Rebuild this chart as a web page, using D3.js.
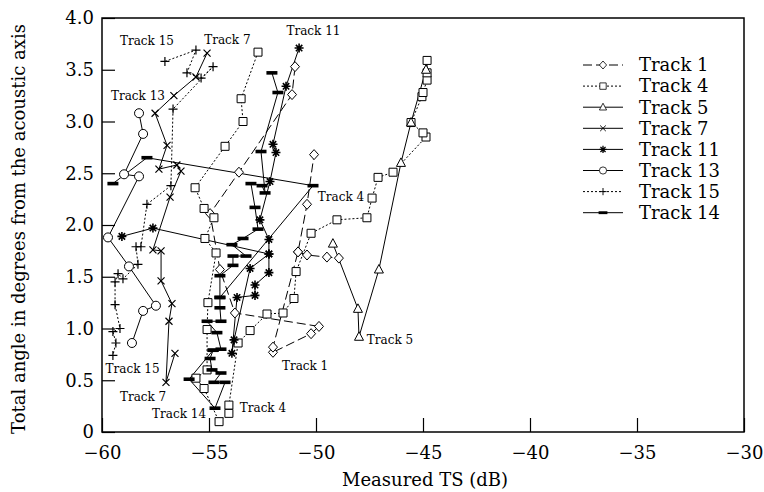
<!DOCTYPE html>
<meta charset="utf-8">
<style>
body { margin: 0; background: #fff; }
text { font-family: "DejaVu Serif", serif; fill: #000; }
.line { fill: none; stroke: #000; stroke-width: 1px; }
</style>
<body>
<script src="https://cdn.jsdelivr.net/npm/d3@7"></script>
<script>

// each track: [measured TS (dB), total angle (deg)], null = break in the line
var track1 = [[-50.98,3.53],[-51.12,3.26],[-53.60,2.51],[-54.95,2.11],[-54.49,1.57],[-53.79,1.15],
  [-49.86,1.02],[-50.23,0.95],[-52.01,0.77],[-52.01,0.82],[-50.84,1.74],[-50.42,2.20],[-50.09,2.68],
  null,[-50.84,1.74],[-50.42,1.71],[-49.49,1.69],[-48.93,1.68]];

var track4 = [[-52.71,3.67],[-53.50,3.22],[-53.41,3.00],[-54.25,2.76],[-55.65,2.36],[-55.23,2.16],
  [-54.77,2.07],[-55.19,1.87],[-54.67,1.73],[-55.05,1.25],[-55.09,0.99],[-55.09,0.60],[-55.61,0.52],
  [-55.23,0.42],[-54.53,0.10],[-54.07,0.18],[-54.07,0.26],[-53.64,0.86],[-53.08,0.98],[-52.29,1.14],
  [-51.54,1.15],[-51.03,1.29],[-50.93,1.55],[-50.23,1.92],[-49.02,2.05],[-47.62,2.07],[-47.38,2.26],
  [-47.10,2.46],[-46.40,2.51],[-44.86,2.85],[-45.00,2.89],[-45.56,2.99],[-45.05,3.24],[-45.00,3.28],
  [-44.81,3.40],[-44.81,3.47],[-44.81,3.59]];

var track5 = [[-49.21,1.82],[-48.04,1.19],[-47.99,0.92],[-47.06,1.57],[-46.03,2.60],[-45.56,2.99],[-44.86,3.50]];

var track7 = [[-56.59,0.76],[-57.01,0.48],[-56.87,1.07],[-56.73,1.24],[-57.24,1.46],[-57.24,1.75],
  [-57.62,1.76],[-56.82,2.27],[-56.31,2.52],[-56.50,2.58],[-57.34,2.54],[-56.96,2.77],[-57.52,3.08],
  [-56.64,3.25],[-55.61,3.43],[-55.09,3.66]];

var track11 = [[-50.79,3.71],[-51.40,3.34],[-52.01,2.78],[-51.87,2.70],[-52.15,2.42],[-52.62,2.05],
  [-52.20,1.86],[-52.20,1.72],[-52.20,1.54],[-52.85,1.42],[-52.85,1.32],[-53.69,1.30],[-53.93,0.76],
  [-53.83,0.89],[-53.08,1.58],[-52.20,1.72],[-57.62,1.97],[-59.07,1.89]];

var track13 = [[-58.27,3.08],[-58.08,2.88],[-58.97,2.49],[-58.27,2.47],[-59.72,1.88],[-58.74,1.60],
  [-57.48,1.22],[-58.08,1.17],[-58.60,0.86]];

var track15 = [[-57.06,3.58],[-55.61,3.69],[-56.03,3.47],[-55.37,3.42],[-54.81,3.53],[-56.68,3.12],
  [-56.78,2.38],[-57.90,2.20],[-58.18,1.79],[-58.41,1.79],[-58.32,1.62],[-59.02,1.48],[-59.25,1.53],
  [-59.39,1.45],[-59.39,1.23],[-59.16,1.00],[-59.49,0.97],[-59.35,0.86],[-59.49,0.74]];

var track14 = [[-59.49,2.40],[-57.90,2.65],[-50.14,2.38],[-54.49,1.30],[-54.49,1.51],[-53.88,1.61],
  [-53.88,1.70],[-53.27,1.70],[-53.93,1.81],[-53.41,1.87],[-52.71,1.96],[-52.85,2.17],[-53.04,2.40],
  [-52.52,2.38],[-52.38,2.31],[-52.57,2.71],[-51.78,3.28],[-52.06,3.47],
  null,[-54.49,1.30],[-54.49,1.20],[-54.44,1.07],[-55.09,1.07],[-54.63,0.96],[-54.44,0.80],[-54.81,0.79],
  [-54.95,0.71],[-54.86,0.60],[-54.44,0.57],[-54.77,0.48],[-54.25,0.48],[-54.72,0.23],[-55.93,0.51],
  [-54.81,0.79]];

var xTicks = [-60, -55, -50, -45, -40, -35, -30];
var yTicks = [0, 0.5, 1, 1.5, 2, 2.5, 3, 3.5, 4];

// text labels placed next to the tracks, in data units
var notes = [
  {t: "Track 15", x: -57.90, y: 3.78}, {t: "Track 7", x: -54.14, y: 3.79},
  {t: "Track 11", x: -50.12, y: 3.88}, {t: "Track 13", x: -58.32, y: 3.25},
  {t: "Track 4", x: -48.83, y: 2.27}, {t: "Track 5", x: -46.54, y: 0.89},
  {t: "Track 1", x: -50.51, y: 0.64}, {t: "Track 15", x: -58.57, y: 0.61},
  {t: "Track 7", x: -58.08, y: 0.34}, {t: "Track 14", x: -56.40, y: 0.18},
  {t: "Track 4", x: -52.48, y: 0.23}
];

var tracks = [
  {name: "Track 1", data: track1, marker: "diamond", dash: "9,4"},
  {name: "Track 4", data: track4, marker: "square", dash: "2,2"},
  {name: "Track 5", data: track5, marker: "triangle", dash: null},
  {name: "Track 7", data: track7, marker: "cross", dash: null},
  {name: "Track 11", data: track11, marker: "star", dash: null},
  {name: "Track 13", data: track13, marker: "circle", dash: null},
  {name: "Track 15", data: track15, marker: "plus", dash: "2,2"},
  {name: "Track 14", data: track14, marker: "bar", dash: null}
];

var markers = {
  diamond: {d: "M0,-5L4.5,0L0,5L-4.5,0Z", fill: "#fff", sw: 1},
  square: {d: "M-4,-4H4V4H-4Z", fill: "#fff", sw: 1},
  triangle: {d: "M0,-5L4.5,3.5H-4.5Z", fill: "#fff", sw: 1},
  cross: {d: "M-3.5,-3.5L3.5,3.5M-3.5,3.5L3.5,-3.5", fill: "none", sw: 1.2},
  star: {d: "M-4.5,0H4.5M0,-4.5V4.5M-3.2,-3.2L3.2,3.2M-3.2,3.2L3.2,-3.2", fill: "none", sw: 1.6},
  circle: {d: "M4.5,0A4.5,4.5 0 1,1 -4.5,0A4.5,4.5 0 1,1 4.5,0Z", fill: "#fff", sw: 1},
  plus: {d: "M-4.5,0H4.5M0,-4.5V4.5", fill: "none", sw: 1.2},
  bar: {d: "M-5.5,-1.8H5.5V1.8H-5.5Z", fill: "#000", sw: 0}
};

var margin = {top: 18, right: 20, bottom: 60, left: 102},
    width = 744 - margin.left,
    height = 432 - margin.top;

var x = d3.scaleLinear().domain([-60, -30]).range([0, width]);
var y = d3.scaleLinear().domain([0, 4]).range([height, 0]);

var svg = d3.select("body").append("svg")
    .attr("width", 764)
    .attr("height", 492)
  .append("g")
    .attr("transform", "translate(" + margin.left + "," + margin.top + ")");

// axes with inward ticks
var yAxis = svg.append("g")
    .call(d3.axisLeft(y).tickValues(yTicks).tickSize(-13).tickPadding(8)
      .tickFormat(function(d) { return d === 0 ? "0" : d3.format(".1f")(d); }));
var xAxis = svg.append("g")
    .attr("transform", "translate(0," + height + ")")
    .call(d3.axisBottom(x).tickValues(xTicks).tickSize(-14).tickPadding(14).tickFormat(d3.format("d")));

[yAxis, xAxis].forEach(function(a) {
  a.select(".domain").remove();
  a.selectAll("line").attr("stroke", "#000").attr("stroke-width", 1.2);
  a.selectAll("text").style("font-family", "DejaVu Serif").style("font-size", "18px");
});

svg.append("rect")
    .attr("width", width).attr("height", height)
    .attr("fill", "none").attr("stroke", "#000").attr("stroke-width", 1.5);

var line = d3.line()
    .defined(function(d) { return d != null; })
    .x(function(d) { return x(d[0]); })
    .y(function(d) { return y(d[1]); });

tracks.forEach(function(tr) {
  svg.append("path")
      .datum(tr.data)
      .attr("class", "line")
      .attr("stroke-dasharray", tr.dash)
      .attr("d", line);
});

tracks.forEach(function(tr) {
  var m = markers[tr.marker];
  svg.append("g").selectAll("path")
      .data(tr.data.filter(function(d) { return d != null; }))
    .enter().append("path")
      .attr("transform", function(d) { return "translate(" + x(d[0]) + "," + y(d[1]) + ")"; })
      .attr("d", m.d)
      .attr("fill", m.fill)
      .attr("stroke", m.sw ? "#000" : "none")
      .attr("stroke-width", m.sw);
});

svg.selectAll(".note")
    .data(notes)
  .enter().append("text")
    .attr("class", "note")
    .attr("x", function(d) { return x(d.x); })
    .attr("y", function(d) { return y(d.y); })
    .attr("dy", "0.35em")
    .attr("text-anchor", "middle")
    .style("font-size", "12px")
    .text(function(d) { return d.t; });

// legend
var legend = svg.append("g").attr("transform", "translate(481,47)");
var row = legend.selectAll("g")
    .data(tracks)
  .enter().append("g")
    .attr("transform", function(d, i) { return "translate(0," + (i * 21.1) + ")"; });
row.append("line")
    .attr("x1", 0).attr("x2", 40)
    .attr("stroke", "#000").attr("stroke-width", 1)
    .attr("stroke-dasharray", function(d) { return d.dash; });
row.append("path")
    .attr("transform", "translate(20,0) scale(0.8)")
    .attr("d", function(d) { return markers[d.marker].d; })
    .attr("fill", function(d) { return markers[d.marker].fill; })
    .attr("stroke", function(d) { return markers[d.marker].sw ? "#000" : "none"; })
    .attr("stroke-width", function(d) { return markers[d.marker].sw; });
row.append("text")
    .attr("x", 56)
    .attr("dy", "0.35em")
    .style("font-size", "18px")
    .text(function(d) { return d.name; });

// axis titles
svg.append("text")
    .attr("x", 323).attr("y", height + 54)
    .attr("text-anchor", "middle")
    .style("font-size", "18px")
    .text("Measured TS (dB)");
svg.append("text")
    .attr("transform", "translate(-77," + (height / 2 + 4) + ") rotate(-90)")
    .attr("text-anchor", "middle")
    .style("font-size", "18px")
    .text("Total angle in degrees from the acoustic axis");

</script>
</body>
